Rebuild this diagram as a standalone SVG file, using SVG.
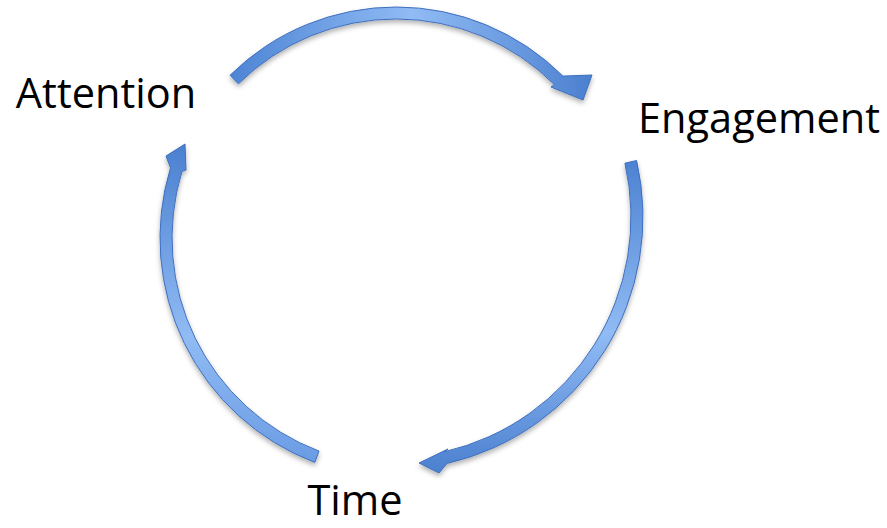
<svg xmlns="http://www.w3.org/2000/svg" width="887" height="528" viewBox="0 0 887 528">
  <style>
    .label { font-family: "Open Sans", "Liberation Sans", sans-serif; font-size: 41.5px; fill: #000000; text-anchor: middle; }
    .arrow { stroke: #3f6fbf; stroke-width: 1; stroke-linejoin: round; filter: url(#shadow); }
  </style>
  <defs>
    <filter id="shadow" x="-20%" y="-20%" width="140%" height="140%">
      <feDropShadow dx="0" dy="3" stdDeviation="2.5" flood-color="#000000" flood-opacity="0.3"/>
    </filter>
    <linearGradient id="gTop" gradientUnits="userSpaceOnUse" x1="230" y1="0" x2="595" y2="0">
      <stop offset="0" stop-color="#4d84d4"/>
      <stop offset="0.5" stop-color="#90bbf4"/>
      <stop offset="1" stop-color="#4a7fcf"/>
    </linearGradient>
    <linearGradient id="gRight" gradientUnits="userSpaceOnUse" x1="0" y1="160" x2="0" y2="475">
      <stop offset="0" stop-color="#4c82d1"/>
      <stop offset="0.55" stop-color="#90bbf4"/>
      <stop offset="1" stop-color="#4a7fcf"/>
    </linearGradient>
    <linearGradient id="gLeft" gradientUnits="userSpaceOnUse" x1="0" y1="142" x2="0" y2="465">
      <stop offset="0" stop-color="#4a7fcf"/>
      <stop offset="0.6" stop-color="#90bbf4"/>
      <stop offset="1" stop-color="#6a9be3"/>
    </linearGradient>
  </defs>
  <rect width="887" height="528" fill="#ffffff"/>
  <g id="connectors">
    <path id="attention-to-engagement" class="arrow" fill="url(#gTop)" d="M230.0,75.3 A236,236 0 0 1 562.9,76.1 L592,75 L583,100 L551,87 L554.4,84.6 A224,224 0 0 0 238.4,83.8 Z"/>
    <path id="engagement-to-time" class="arrow" fill="url(#gRight)" d="M636.6,160.5 A253,253 0 0 1 446.9,463.5 L439,473 L419,463 L448,449 L444.2,451.8 A241,241 0 0 0 624.9,163.2 Z"/>
    <path id="time-to-attention" class="arrow" fill="url(#gLeft)" d="M314.8,462.4 A240,240 0 0 1 170.5,167.8 L166,156 L185,144 L186,170 L182.0,171.3 A228,228 0 0 0 319.0,451.1 Z"/>
  </g>
  <g id="node-attention">
    <text class="label" x="106" y="108">Attention</text>
  </g>
  <g id="node-engagement">
    <text class="label" x="759" y="133">Engagement</text>
  </g>
  <g id="node-time">
    <text class="label" x="355" y="515">Time</text>
  </g>
</svg>
